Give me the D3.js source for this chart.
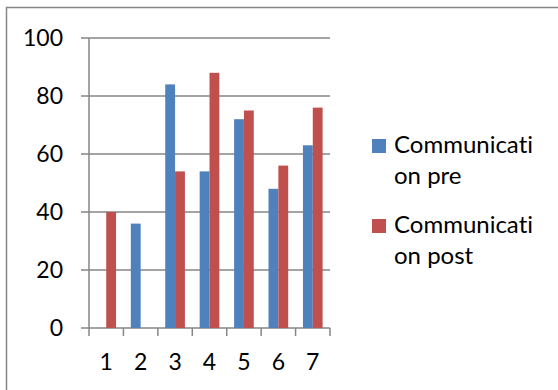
<!DOCTYPE html>
<html>
<head>
<meta charset="utf-8">
<script src="https://cdn.jsdelivr.net/npm/d3@7"></script>
<style>
  html, body { margin: 0; padding: 0; background: #fff; }
  svg { display: block; }
  text { font-family: Lato, "Open Sans", sans-serif; fill: #000; font-variant-ligatures: none; }
</style>
</head>
<body>
<svg id="chart" width="558" height="390"></svg>
<script>
// Categories and series values
const categories = ["1", "2", "3", "4", "5", "6", "7"];
const preValues  = [0, 36, 84, 54, 72, 48, 63];
const postValues = [40, 0, 54, 88, 75, 56, 76];
const seriesNames = [["Communicati", "on pre"], ["Communicati", "on post"]];
const yTicks = [0, 20, 40, 60, 80, 100];

const colors = ["#4F81BD", "#C0504D"];
const svg = d3.select("#chart");

// Chart frame (runs off the right and bottom edges)
svg.append("rect")
  .attr("x", 6.5).attr("y", 7.5)
  .attr("width", 600).attr("height", 420)
  .attr("fill", "#fff")
  .attr("stroke", "#868686").attr("stroke-width", 1.5);

const plot = { left: 89, right: 330, top: 38, bottom: 328 };

const x = d3.scaleBand()
  .domain(categories)
  .range([plot.left, plot.right])
  .paddingInner(0).paddingOuter(0);

const y = d3.scaleLinear()
  .domain([0, 100])
  .range([plot.bottom, plot.top]);

// Horizontal gridlines
svg.append("g")
  .selectAll("line")
  .data(yTicks)
  .join("line")
  .attr("x1", plot.left - 8).attr("x2", plot.right)
  .attr("y1", d => y(d)).attr("y2", d => y(d))
  .attr("stroke", "#868686").attr("stroke-width", 1.5);

// Y axis line
svg.append("line")
  .attr("x1", plot.left).attr("x2", plot.left)
  .attr("y1", plot.top).attr("y2", plot.bottom + 8)
  .attr("stroke", "#868686").attr("stroke-width", 1.5);

// X tick marks at band boundaries
const boundaries = categories.map(c => x(c)).concat([plot.right]);
svg.append("g")
  .selectAll("line")
  .data(boundaries.slice(1))
  .join("line")
  .attr("x1", d => d).attr("x2", d => d)
  .attr("y1", plot.bottom).attr("y2", plot.bottom + 8)
  .attr("stroke", "#868686").attr("stroke-width", 1.5);

// Y tick labels
svg.append("g")
  .selectAll("text")
  .data(yTicks)
  .join("text")
  .attr("x", 63)
  .attr("y", d => y(d) + 8)
  .attr("text-anchor", "end")
  .attr("font-size", 23)
  .text(d => d);

// X tick labels
svg.append("g")
  .selectAll("text")
  .data(categories)
  .join("text")
  .attr("x", d => x(d) + x.bandwidth() / 2)
  .attr("y", 370)
  .attr("text-anchor", "middle")
  .attr("font-size", 23)
  .text(d => d);

// Bars: two series side by side, gap width 150%
const barW = x.bandwidth() / 3.5;
const groups = [preValues, postValues];
groups.forEach((vals, si) => {
  svg.append("g")
    .selectAll("rect")
    .data(categories.map((c, i) => ({ c, v: vals[i] })))
    .join("rect")
    .attr("x", d => x(d.c) + x.bandwidth() / 2 - barW + si * barW)
    .attr("y", d => y(d.v))
    .attr("width", barW)
    .attr("height", d => plot.bottom - y(d.v))
    .attr("fill", colors[si]);
});

// Legend
const legendRows = [{ y: 139 }, { y: 219 }];
legendRows.forEach((row, i) => {
  const g = svg.append("g");
  g.append("rect")
    .attr("x", 372).attr("y", row.y)
    .attr("width", 14).attr("height", 14)
    .attr("fill", colors[i]);
  seriesNames[i].forEach((line, j) => {
    g.append("text")
      .attr("x", 394)
      .attr("y", row.y + 14 + j * 31)
      .attr("font-size", 24)
      .text(line);
  });
});
</script>
</body>
</html>
